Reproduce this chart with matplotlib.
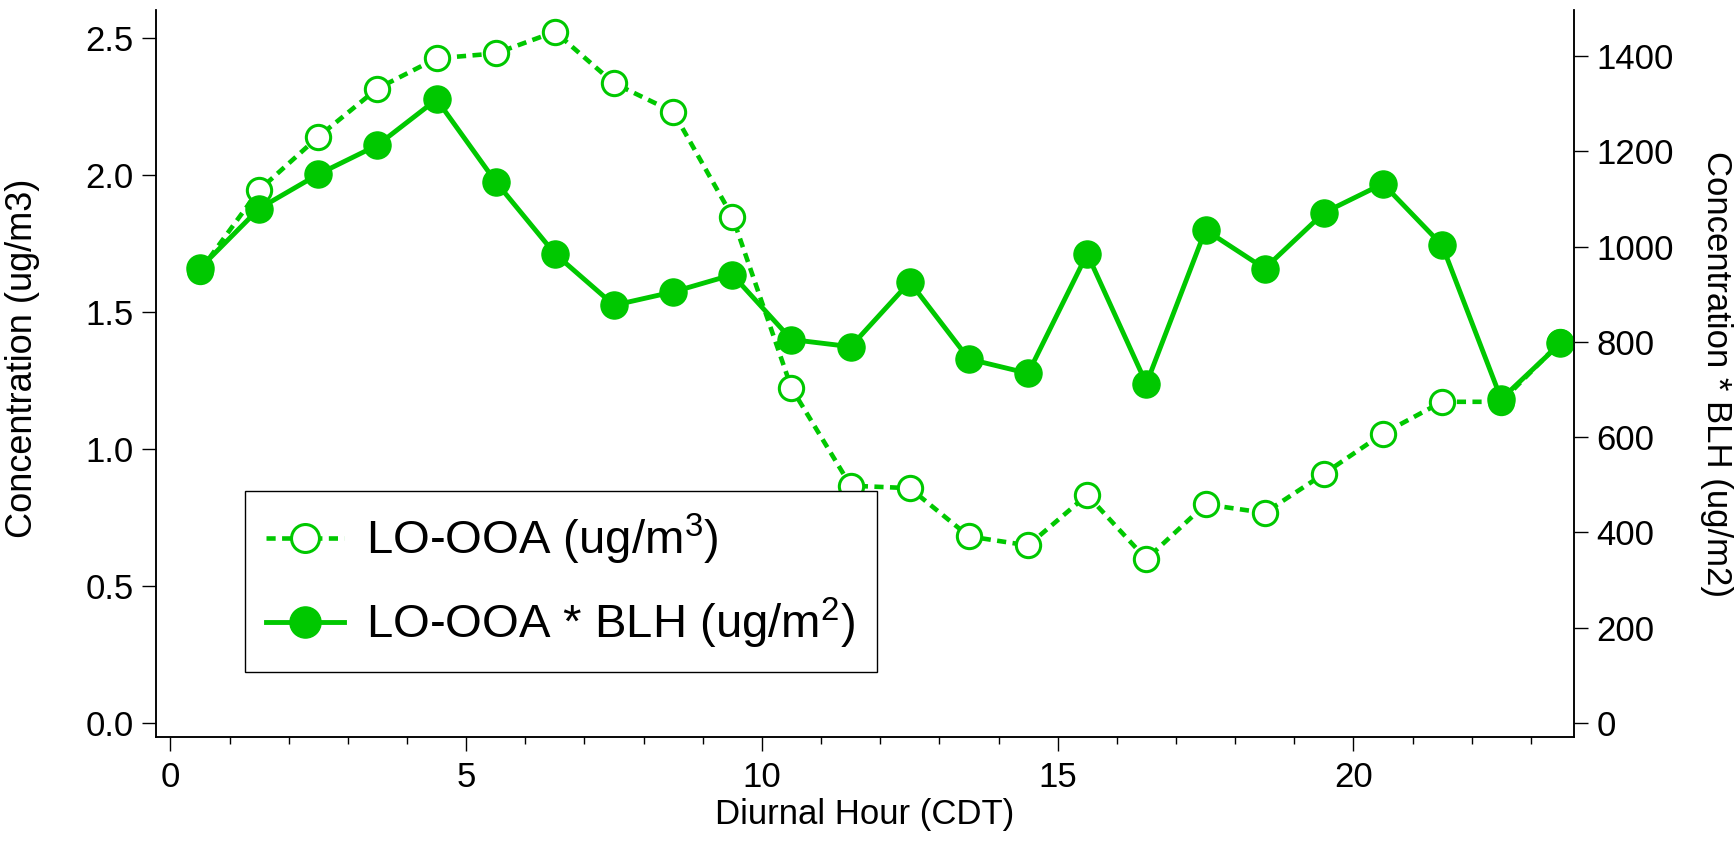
import matplotlib
matplotlib.use("Agg")
import matplotlib.pyplot as plt
from matplotlib.ticker import MultipleLocator

# diurnal profile, hour of day (CDT)
hours = [0.5, 1.5, 2.5, 3.5, 4.5, 5.5, 6.5, 7.5, 8.5, 9.5, 10.5, 11.5,
         12.5, 13.5, 14.5, 15.5, 16.5, 17.5, 18.5, 19.5, 20.5, 21.5, 22.5, 23.5]
# LO-OOA concentration (ug/m3), left axis
lo_ooa = [1.65, 1.945, 2.139, 2.315, 2.425, 2.443, 2.522, 2.334, 2.230, 1.848,
          1.222, 0.866, 0.857, 0.681, 0.648, 0.832, 0.598, 0.798, 0.767, 0.909,
          1.056, 1.172, 1.172, 1.390]
# LO-OOA * BLH (ug/m2), right axis
lo_ooa_blh = [955, 1080, 1152, 1213, 1309, 1136, 985, 877, 905, 941, 805, 790,
              926, 764, 734, 985, 712, 1035, 954, 1071, 1132, 1003, 680, 797]

green = "#00c800"

plt.rcParams["font.family"] = ["Liberation Sans", "DejaVu Sans"]
plt.rcParams["mathtext.fontset"] = "custom"
plt.rcParams["mathtext.rm"] = "Liberation Sans"
plt.rcParams["font.size"] = 25

fig = plt.figure(figsize=(17.35, 8.43), dpi=100)
ax = fig.add_axes([0.0899, 0.1257, 0.8173, 0.8623])
ax2 = ax.twinx()

l1, = ax.plot(hours, lo_ooa, color=green, lw=3.3, dashes=(2.0, 1.4),
              marker="o", ms=17.5, mfc="white", mec=green, mew=2.2,
              label="LO-OOA (ug/m$^3$)")
l2, = ax2.plot(hours, lo_ooa_blh, color=green, lw=3.5, marker="o", ms=19.5,
               mfc=green, mec=green, label="LO-OOA * BLH (ug/m$^2$)")

ax.set_xlim(-0.245, 23.73)
ax.set_ylim(-0.051, 2.601)
ax2.set_ylim(-29.4, 1496.5)

ax.xaxis.set_major_locator(MultipleLocator(5))
ax.xaxis.set_minor_locator(MultipleLocator(1))
ax.yaxis.set_major_locator(MultipleLocator(0.5))
ax.yaxis.set_major_formatter(plt.FormatStrFormatter("%.1f"))
ax2.yaxis.set_major_locator(MultipleLocator(200))

for a in (ax, ax2):
    a.spines["top"].set_visible(False)
    for s in a.spines.values():
        s.set_linewidth(1.1)
    a.tick_params(which="major", direction="out", length=10, width=1.0, labelsize=25)
    a.tick_params(which="minor", direction="out", length=5, width=1.0)
ax.tick_params(axis="x", pad=7)
ax.tick_params(axis="y", pad=6)
ax2.tick_params(axis="y", pad=6)

ax.set_xlabel("Diurnal Hour (CDT)", fontsize=25, labelpad=3)
ax.set_ylabel("Concentration (ug/m3)", fontsize=26)
ax.yaxis.set_label_coords(-0.0818, 0.521)
ax2.set_ylabel("Concentration * BLH (ug/m2)", fontsize=25, rotation=270, va="bottom")
ax2.yaxis.set_label_coords(1.0888, 0.5)

leg = ax2.legend(handles=[l1, l2], loc="lower left", bbox_to_anchor=(0.0628, 0.0894),
                 fontsize=34, frameon=True, fancybox=False, framealpha=1,
                 edgecolor="black", borderpad=0.45, labelspacing=0.6,
                 handlelength=1.65, handletextpad=0.47, borderaxespad=0,
                 markerscale=1.15)
leg.get_frame().set_linewidth(1.0)

fig.savefig("out.png", dpi=100)
